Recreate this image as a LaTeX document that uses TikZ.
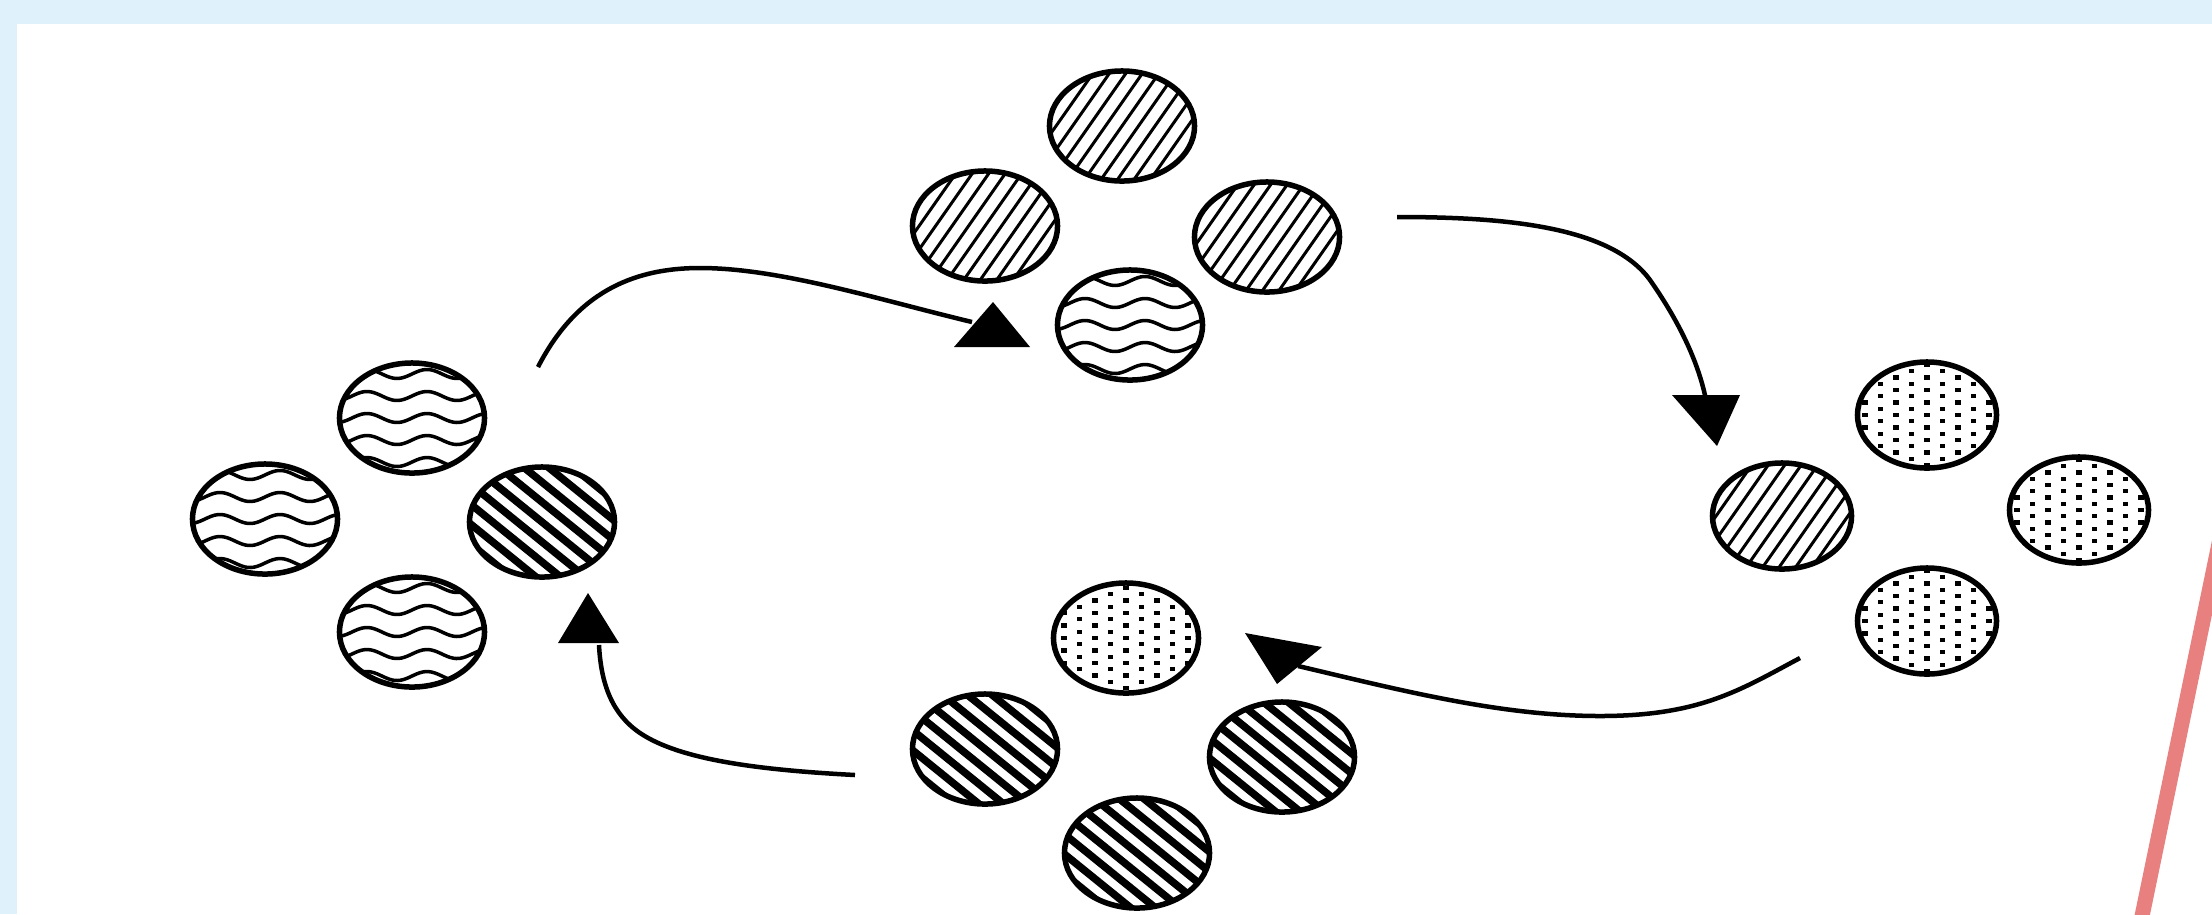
\documentclass[tikz,border=0pt]{standalone}
\usetikzlibrary{shapes.geometric}
\definecolor{bandblue}{RGB}{223,241,251}
\definecolor{redline}{RGB}{232,128,128}
\newcommand\lightpat{\begin{scope}[rotate=55]\foreach \i in {-8,...,8} \draw[line width=0.03cm] (-1.2,\i*0.135) -- (1.2,\i*0.135);\end{scope}}
\newcommand\darkpat{\begin{scope}[rotate=-39]\foreach \i in {-8,...,8} \draw[line width=0.075cm] (-1.2,\i*0.155) -- (1.2,\i*0.155);\end{scope}}
\newcommand\wavepat{\foreach \r in {-3,...,3} \draw[line width=0.035cm] plot[domain=-0.9:0.9, samples=60, smooth] (\x, {\r*0.22+0.045*sin(\x*600)});}
\newcommand\dotspat{\foreach \c in {-5,...,5} \foreach \r in {-6,...,6} \fill ({\c*0.155-0.028}, {\r*0.125+0.0625*mod(\c+10,2)-0.022}) rectangle +(0.056,0.044);}
\newcommand\patblob[5]{\begin{scope}\clip (#1,#2) ellipse [x radius=#3, y radius=#4];\begin{scope}[shift={(#1,#2)}, x=1cm, y=1cm]#5\end{scope}\end{scope}}
\tikzset{
  blob/.style={ellipse, draw=black, line width=0.055cm, inner sep=0pt,
    minimum width=1.45cm, minimum height=1.1cm},
  smallblob/.style={minimum width=1.39cm, minimum height=1.06cm},
  conn/.style={draw=black, line width=0.045cm},
  head/.style={fill=black},
}
\begin{document}
\begin{tikzpicture}[x=0.01cm, y=-0.01cm]
\useasboundingbox (0,0) rectangle (2212,914);
\clip (0,0) rectangle (2212,914);
\fill[white] (0,0) rectangle (2212,914);
\fill[bandblue] (0,0) rectangle (2212,24);
\fill[bandblue] (0,0) rectangle (17,914);
\draw[redline, line width=0.15cm] (2228,500) -- (2135,950);

% patterns
\patblob{1122}{126}{72.5}{55}{\lightpat}
\patblob{985}{226}{72.5}{55}{\lightpat}
\patblob{1267}{237}{72.5}{55}{\lightpat}
\patblob{1130}{325}{72.5}{55}{\wavepat}
\patblob{412}{418}{72.5}{55}{\wavepat}
\patblob{265}{519}{72.5}{55}{\wavepat}
\patblob{542}{522}{72.5}{55}{\darkpat}
\patblob{412}{632}{72.5}{55}{\wavepat}
\patblob{1927}{415}{69.5}{53}{\dotspat}
\patblob{1782}{516}{69.5}{53}{\lightpat}
\patblob{2079}{510}{69.5}{53}{\dotspat}
\patblob{1927}{621}{69.5}{53}{\dotspat}
\patblob{1126}{638}{72.5}{55}{\dotspat}
\patblob{985}{749}{72.5}{55}{\darkpat}
\patblob{1282}{757}{72.5}{55}{\darkpat}
\patblob{1137}{853}{72.5}{55}{\darkpat}

% top cluster
\node[blob] (t1) at (1122,126) {};
\node[blob] (t2) at (985,226) {};
\node[blob] (t3) at (1267,237) {};
\node[blob] (t4) at (1130,325) {};
% left cluster
\node[blob] (l1) at (412,418) {};
\node[blob] (l2) at (265,519) {};
\node[blob] (l3) at (542,522) {};
\node[blob] (l4) at (412,632) {};
% right cluster
\node[blob, smallblob] (r1) at (1927,415) {};
\node[blob, smallblob] (r2) at (1782,516) {};
\node[blob, smallblob] (r3) at (2079,510) {};
\node[blob, smallblob] (r4) at (1927,621) {};
% bottom cluster
\node[blob] (b1) at (1126,638) {};
\node[blob] (b2) at (985,749) {};
\node[blob] (b3) at (1282,757) {};
\node[blob] (b4) at (1137,853) {};

% connector end points
\coordinate (s1) at (538,367);
\coordinate (m1) at (700,268);
\coordinate (e1) at (972,322);
\coordinate (s2) at (1397,217);
\coordinate (m2) at (1650,280);
\coordinate (e2) at (1706,400);
\coordinate (s3) at (1800,658);
\coordinate (m3) at (1600,716);
\coordinate (e3) at (1298,666);
\coordinate (s4) at (855,775);
\coordinate (m4) at (640,733);
\coordinate (e4) at (599,645);

\draw[conn] (s1) .. controls (575,295) and (630,268) .. (m1)
                 .. controls (780,268) and (880,300) .. (e1);
\draw[conn] (s2) .. controls (1500,217) and (1610,225) .. (m2)
                 .. controls (1685,330) and (1700,370) .. (e2);
\draw[conn] (s3) .. controls (1740,690) and (1700,716) .. (m3)
                 .. controls (1500,716) and (1400,690) .. (e3);
\draw[conn] (s4) .. controls (760,770) and (680,760) .. (m4)
                 .. controls (612,714) and (601,684) .. (e4);

% arrowheads
\fill[head] (954,347) -- (1030,347) -- (993,302) -- cycle;
\fill[head] (1672,395) -- (1740,395) -- (1717,446) -- cycle;
\fill[head] (1245,633) -- (1322,647) -- (1277,684) -- cycle;
\fill[head] (558,643) -- (619,643) -- (588,593) -- cycle;
\end{tikzpicture}
\end{document}
